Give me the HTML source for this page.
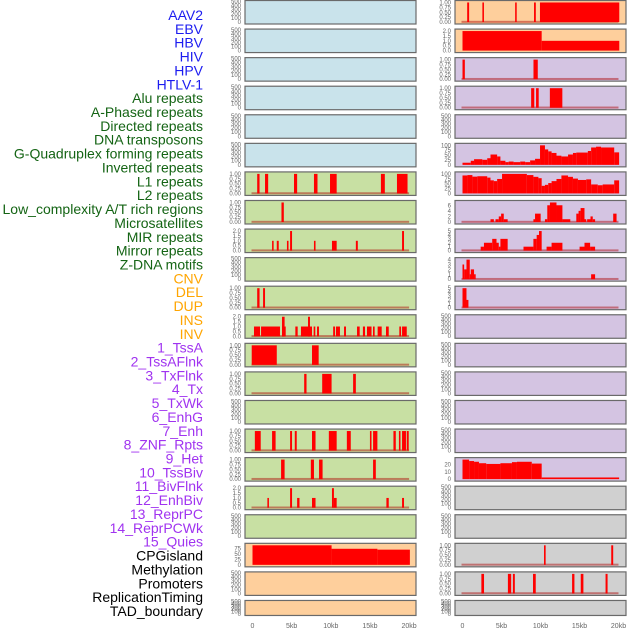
<!DOCTYPE html>
<html><head><meta charset="utf-8"><style>
html,body{margin:0;padding:0;background:#fff;}
svg{display:block;font-family:"Liberation Sans",sans-serif;}
</style></head><body>
<svg id="chart" width="630" height="630" viewBox="0 0 630 630"></svg>
<script>
const labels = ["AAV2","EBV","HBV","HIV","HPV","HTLV-1","Alu repeats","A-Phased repeats","Directed repeats","DNA transposons","G-Quadruplex forming repeats","Inverted repeats","L1 repeats","L2 repeats","Low_complexity A/T rich regions","Microsatellites","MIR repeats","Mirror repeats","Z-DNA motifs","CNV","DEL","DUP","INS","INV","1_TssA","2_TssAFlnk","3_TxFlnk","4_Tx","5_TxWk","6_EnhG","7_Enh","8_ZNF_Rpts","9_Het","10_TssBiv","11_BivFlnk","12_EnhBiv","13_ReprPC","14_ReprPCWk","15_Quies","CPGisland","Methylation","Promoters","ReplicationTiming","TAD_boundary"];
const labelGroups = [6,13,5,15,5];
const groupColors = ["#1c1cf0","#146414","#ffa500","#a033f0","#000000"];
const xTicks = [0,5,10,15,20];
const xTickLabels = ["0","5kb","10kb","15kb","20kb"];
const leftBg = ["b","b","b","b","b","b","g","g","g","g","g","g","g","g","g","g","g","g","g","p","p","p"];
const rightBg = ["p","p","l","l","l","l","l","l","l","l","l","l","l","l","l","l","l","x","x","x","x","x"];
const leftMax = [0,0,0,0,0,0,1,1,2,0,1,2,1,1,0,1,1,2,0,90,0,0];
const rightMax = [1,2,1,1,0,100,100,7,5,4,5,0,0,0,0,0,27,0,0,1,1,0];
const leftTicks = [null,null,null,null,null,null,"f1","f1","f2",null,"f1","f2","f1","f1",null,"f1","f1","f2",null,"cpg",null,null];
const rightTicks = ["f1","f2","f1","f1",null,"p100","p100","i6","i5","i4","i5",null,null,null,null,null,"i20",null,null,"f1","f1",null];
const tickSets = {
  f1:[[1,"1.00"],[0.75,"0.75"],[0.5,"0.50"],[0.25,"0.25"],[0,"0.00"]],
  f2:[[2,"2.0"],[1.5,"1.5"],[1,"1.0"],[0.5,"0.5"],[0,"0.0"]],
  cpg:[[75,"75"],[50,"50"],[25,"25"],[0,"0"]],
  p100:[[100,"100"],[75,"75"],[50,"50"],[25,"25"],[0,"0"]],
  i6:[[6,"6"],[4,"4"],[2,"2"],[0,"0"]],
  i5:[[5,"5"],[4,"4"],[3,"3"],[2,"2"],[1,"1"],[0,"0"]],
  i4:[[4,"4"],[3,"3"],[2,"2"],[1,"1"],[0,"0"]],
  i20:[[20,"20"],[10,"10"],[0,"0"]],
  e:[[500,"500"],[400,"400"],[300,"300"],[200,"200"],[100,"100"],[0,"0"]]
};
const leftSegs = [[],[],[],[],[],[],
 [[0.6,0.9,1],[1.6,2.0,1],[5.3,5.7,1],[7.85,8.3,1],[9.9,10.75,1],[16.4,16.9,1],[18.45,19.8,1]],
 [[3.7,4.0,1]],
 [[2.5,2.7,1],[3.1,3.35,1],[4.4,4.6,1],[4.8,5.05,2],[7.85,8.05,1],[10.15,10.75,1],[13.2,13.45,1],[19.1,19.35,2]],
 [],
 [[0.6,0.9,1],[1.35,1.6,1]],
 [[0.19,0.96,1],[1.09,3.51,1],[3.77,4.24,1],[3.77,4.1,2],[5.47,5.77,1],[6.19,7.6,1],[7.09,7.34,2],[7.81,8.02,1],[8.24,8.49,1],[10.3,10.54,1],[10.66,11.17,1],[11.69,11.94,1],[13.35,13.69,1],[14.1,14.37,1],[14.62,15.2,1],[15.39,15.6,1],[15.98,16.5,1],[17.05,17.4,1],[18.75,18.97,1],[19.1,19.7,1]],
 [[-0.1,3.1,1],[7.6,8.45,1]],
 [[6.6,6.9,1],[8.9,10.1,1],[12.85,13.2,1]],
 [],
 [[0.3,1.05,1],[2.5,2.95,1],[4.8,5.05,1],[5.4,5.65,1],[7.6,8.05,1],[9.75,10.75,1],[12.05,12.55,1],[15.0,15.2,1],[15.4,15.95,1],[18.0,18.3,1],[18.7,18.9,1],[19.1,19.6,1],[19.7,19.95,1]],
 [[3.65,4.1,1],[7.45,7.85,1],[8.5,8.95,1],[15.4,15.75,1]],
 [[1.9,2.1,1],[4.8,5.05,2],[5.7,6.0,1],[7.6,8.05,1],[10.15,10.4,2],[10.4,10.75,1],[17.1,17.4,1],[19.1,19.35,1]],
 [],
 [[0,10.1,90],[10.1,15.95,74],[15.95,20.1,70]],
 [],[]];
const rightSegs = [
 [[0.6,0.85,1],[2.55,2.75,1],[6.75,6.95,1],[9.17,9.4,1],[9.93,20.1,1]],
 [[0,10.15,2],[10.15,20.1,1]],
 [[0,0.3,1],[9.1,9.65,1]],
 [[8.8,9.2,1],[9.43,9.77,1],[11.2,12.8,1]],
 [],
 [[0,1.06,11],[1.06,1.48,21],[1.48,2.54,29],[2.54,3.17,26],[3.17,3.59,34],[3.59,4.44,53],[4.44,4.86,43],[4.86,5.5,21],[5.5,5.92,14],[5.92,6.55,17],[6.55,7.4,14],[7.4,8.03,17],[8.03,8.67,14],[8.67,9.3,23],[9.3,9.94,31],[9.94,10.57,100],[10.57,10.99,79],[10.99,11.42,69],[11.42,12.05,61],[12.05,12.68,47],[12.68,13.53,43],[13.53,14.16,53],[14.16,14.59,61],[14.59,16.07,63],[16.07,16.49,71],[16.49,17.12,89],[17.12,17.76,93],[17.76,19.45,89],[19.45,20.08,64]],
 [[0,0.63,92],[0.63,1.27,94],[1.27,1.9,86],[1.9,3.17,88],[3.17,3.59,81],[3.59,4.02,67],[4.02,4.44,63],[4.44,5.07,74],[5.07,8.25,100],[8.25,9.09,94],[9.09,9.73,85],[9.73,10.15,78],[10.15,10.57,39],[10.57,10.99,44],[10.99,11.42,53],[11.42,12.05,63],[12.05,12.68,74],[12.68,13.53,92],[13.53,14.16,85],[14.16,14.8,76],[14.8,15.86,69],[15.86,16.49,72],[16.49,17.34,46],[17.34,17.97,42],[17.97,19.45,46],[19.45,20.08,67]],
 [[3.59,4.02,1],[4.23,4.65,1],[4.65,4.95,2],[4.95,5.29,3],[5.29,5.79,1],[9.09,9.3,1],[9.3,10.02,3],[10.57,10.87,1],[10.87,11.21,6],[11.21,12.05,7],[12.05,12.81,6],[12.81,13.82,1],[14.59,14.88,3],[14.88,15.14,4],[15.14,15.64,5],[15.64,15.86,1],[15.98,16.41,1],[16.41,16.7,2],[16.7,17.0,1],[19.32,19.75,3]],
 [[2.33,2.75,1],[2.75,3.81,2],[3.81,4.36,3],[4.36,4.65,2],[4.65,4.86,1],[4.86,5.79,3],[7.82,9.09,1],[9.09,9.51,3],[9.51,9.81,4],[9.81,10.15,5],[10.78,11.42,1],[11.42,12.81,2],[15.01,15.64,1],[15.64,16.36,2],[16.36,17.0,1]],
 [[0,0.21,3],[0.21,0.51,2],[0.51,0.93,4],[0.93,1.06,1],[1.06,1.48,2],[1.48,1.69,1],[16.49,17.0,1]],
 [[0,0.51,5],[0.51,0.76,2]],
 [],[],[],[],[],
 [[0,0.85,27],[0.85,1.48,25],[1.48,2.11,24],[2.11,3.04,22],[3.04,4.86,21],[4.86,6.34,22],[6.34,6.98,23.5],[6.98,8.88,24],[8.88,10.15,21.5],[10.15,20.08,2.3]],
 [],[],
 [[10.45,10.66,1],[19.07,19.32,1]],
 [[2.42,2.76,1],[5.82,6.24,1],[6.46,6.71,1],[9.04,9.39,1],[14.05,14.35,1],[15.16,15.5,1],[18.34,18.6,1]],
 []];
const leftBaseline = [0,0,0,0,0,0,1,1,1,0,1,1,1,1,0,1,1,1,0,0,0,0];
const rightBaseline = [1,0,1,1,0,0,0,1,1,1,1,0,0,0,0,0,0,0,0,1,1,0];

const NS="http://www.w3.org/2000/svg";
const svg=document.getElementById('chart');
const bgColors={b:"#c9e3eb",g:"#c8e0a3",p:"#fecf9c",l:"#d4c4e2",x:"#d0d0d0"};
function mk(tag,attrs,parent){const e=document.createElementNS(NS,tag);for(const k in attrs)e.setAttribute(k,attrs[k]);(parent||svg).appendChild(e);return e;}
const rowTop=i=>i*28.57;
const rowH=i=>i===21?16:24.5;
const xLeft=kb=>252.5+7.83*kb;
const xRight=kb=>462.5+7.8*kb;

// labels
let idx=0;
labelGroups.forEach((n,g)=>{for(let k=0;k<n;k++){const t=mk('text',{x:203,y:20+idx*13.86,'text-anchor':'end','font-size':'14px',fill:groupColors[g]});


t.textContent=labels[idx];idx++;}});

function drawPanel(col,i){
  const px=col===0?245:455, pw=171;
  const top=rowTop(i), h=rowH(i), bot=top+h;
  const bg=(col===0?leftBg:rightBg)[i];
  const M=(col===0?leftMax:rightMax)[i];
  const segs=(col===0?leftSegs:rightSegs)[i];
  const xs=col===0?xLeft:xRight;
  const g=mk('g',{});
  
  
  const r=mk('rect',{x:px,y:top+0.5,width:pw,height:h-1,fill:bgColors[bg],stroke:'#6a6a6a','stroke-width':1.2},g);
  
  
  const y0=top+1.5,y1=bot-1.5;
  const dmax=M>0?M*1.05:500, dmin=M>0?-0.05*M:-25;
  const ys=v=>y1-(v-dmin)/(dmax-dmin)*(y1-y0);
  // ticks
  const tk=(col===0?leftTicks:rightTicks)[i]||'e';
  tickSets[tk].forEach(([v,s])=>{const t=mk('text',{x:px-4,y:ys(v)+2,'text-anchor':'end','font-size':'6px',fill:'#666'},g);
    
    
    t.textContent=s;});
  if((col===0?leftBaseline:rightBaseline)[i]){
    const b=mk('rect',{x:xs(0)-1,y:ys(0)-1.2,width:xs(20)-xs(0)+1,height:2,fill:'rgba(170,0,0,0.45)'},g);
    
    
  }
  segs.forEach(([a,b,v])=>{const x1=xs(a),x2=xs(b);const yv=ys(v),yb=ys(0);
    const e=mk('rect',{x:x1,y:Math.max(yv,top+1),width:Math.max(x2-x1,1.2),height:yb-Math.max(yv,top+1),fill:'#ff0000'},g);
    
    });
}
for(let i=0;i<22;i++){drawPanel(0,i);drawPanel(1,i);}
// x axes
[xLeft,xRight].forEach((xs,c)=>{xTicks.forEach((v,k)=>{const t=mk('text',{x:xs(v),y:628,'text-anchor':'middle','font-size':'7px',fill:'#666'});
  
  
  t.textContent=xTickLabels[k];});});
</script>
</body></html>
